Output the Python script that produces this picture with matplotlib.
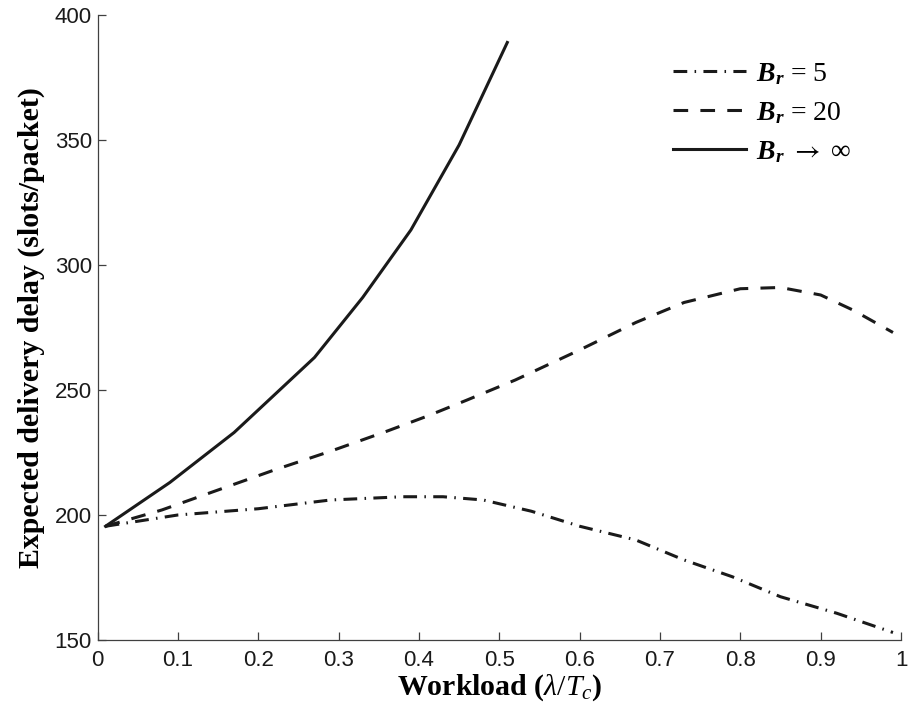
import matplotlib
matplotlib.use("Agg")
import matplotlib.pyplot as plt

plt.rcParams['mathtext.fontset'] = 'custom'
plt.rcParams['mathtext.rm'] = 'Liberation Serif'
plt.rcParams['mathtext.it'] = 'Liberation Serif:italic'
plt.rcParams['mathtext.bf'] = 'Liberation Serif:bold'
plt.rcParams['mathtext.bfit'] = 'Liberation Serif:italic:bold'
plt.rcParams['mathtext.sf'] = 'STIXGeneral'

# delivery delay vs workload for three relay buffer sizes
x_b5 = [0.01, 0.10, 0.20, 0.29, 0.38, 0.43, 0.48, 0.54, 0.60, 0.67, 0.73, 0.79, 0.85, 0.92, 0.99]
y_b5 = [195.5, 200, 202.5, 206, 207.3, 207.3, 206, 201.5, 195.5, 190, 182, 175.3, 167.3, 160.7, 153]

x_b20 = [0.01, 0.08, 0.15, 0.22, 0.29, 0.36, 0.41, 0.46, 0.52, 0.60, 0.67, 0.73, 0.80, 0.85, 0.90, 0.94, 0.99]
y_b20 = [195.5, 202, 210, 218, 225.5, 233.5, 239.5, 246, 254, 266, 277, 285, 290.5, 291, 288, 282, 273]

x_inf = [0.01, 0.09, 0.17, 0.20, 0.27, 0.33, 0.39, 0.45, 0.51]
y_inf = [195.5, 213, 233, 242, 263, 287, 314, 348, 389]

xticks = [0, 0.1, 0.2, 0.3, 0.4, 0.5, 0.6, 0.7, 0.8, 0.9, 1]
xticklabels = ['0', '0.1', '0.2', '0.3', '0.4', '0.5', '0.6', '0.7', '0.8', '0.9', '1']
yticks = [150, 200, 250, 300, 350, 400]

fig = plt.figure(figsize=(9.09, 7.13), dpi=100)
ax = fig.add_axes([0.1073, 0.1024, 0.8839, 0.8766])

lw = 2.2
ax.plot(x_b5, y_b5, color='#1a1a1a', lw=lw, dashes=[4.5, 2.4, 0.5, 2.4],
        dash_capstyle='butt', label=r'$\mathbfit{B_r}$ = 5')
ax.plot(x_b20, y_b20, color='#1a1a1a', lw=lw, dashes=[4.8, 4.0],
        dash_capstyle='butt', label=r'$\mathbfit{B_r}$ = 20')
ax.plot(x_inf, y_inf, color='#1a1a1a', lw=lw,
        label=r'$\mathbfit{B_r}$ $\mathsf{\rightarrow}$ $\infty$')

ax.set_xlim(0, 1)
ax.set_ylim(150, 400)
ax.set_xticks(xticks)
ax.set_xticklabels(xticklabels)
ax.set_yticks(yticks)

for s in ['top', 'right']:
    ax.spines[s].set_visible(False)
for s in ['left', 'bottom']:
    ax.spines[s].set_color('#404040')
    ax.spines[s].set_linewidth(0.9)

ax.tick_params(direction='in', length=5.5, width=0.9, color='#404040',
               labelsize=16, labelcolor='#1a1a1a')
ax.tick_params(axis='x', pad=7)
ax.tick_params(axis='y', pad=4)
for lab in ax.get_xticklabels() + ax.get_yticklabels():
    lab.set_fontfamily('Liberation Sans')

ax.set_xlabel(r'Workload ($\lambda/T_c$)', family='Liberation Serif',
              fontweight='bold', fontsize=21.5, labelpad=1)
ax.set_ylabel('Expected delivery delay (slots/packet)', family='Liberation Serif',
              fontweight='bold', fontsize=21.5)
ax.yaxis.set_label_coords(-0.065, 0.5)

leg = ax.legend(loc='upper right', bbox_to_anchor=(0.970, 0.966), frameon=False,
                prop={'family': 'Liberation Serif', 'size': 20},
                handlelength=2.66, handletextpad=0.36, labelspacing=0.47)

fig.savefig('out.png', dpi=100)
